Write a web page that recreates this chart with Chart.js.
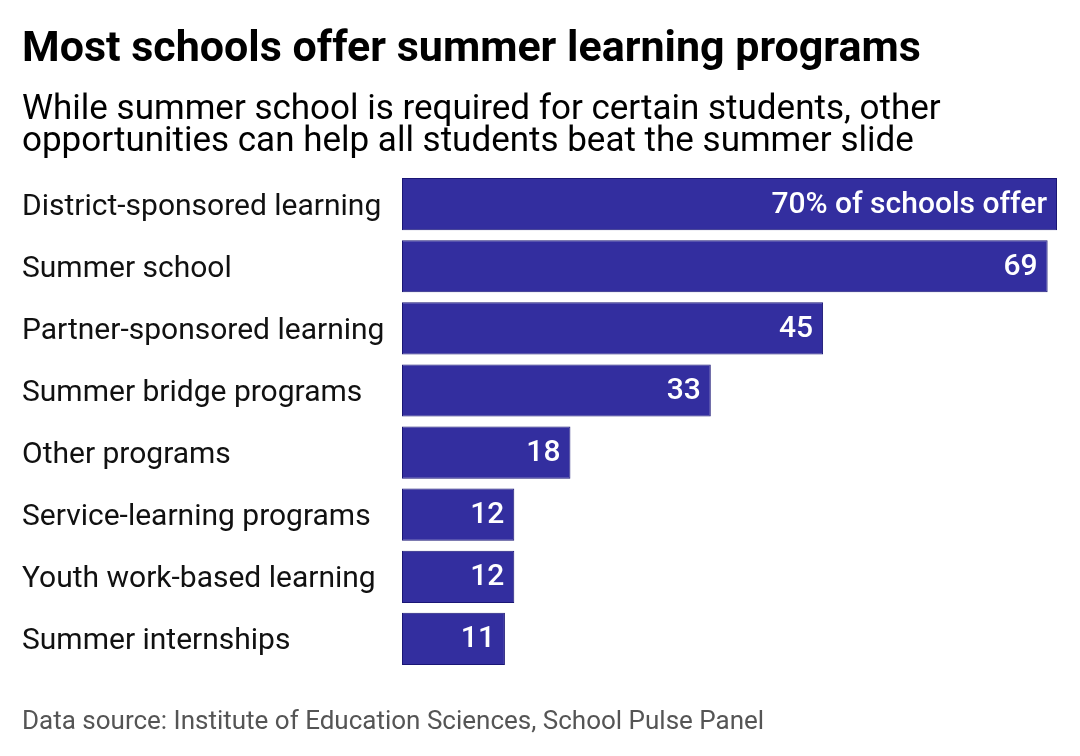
<!DOCTYPE html>
<html>
    <head>
        <meta charset="UTF-8">
        <title>Most schools offer summer learning programs</title>
        <script src="https://cdn.jsdelivr.net/npm/chart.js"></script>
        <style>
            html, body { margin: 0; padding: 0; background: #ffffff; }
            #chart_box { width: 1080px; height: 756px; position: relative; }
        </style>
    </head>

    <body>
        <div id="chart_box">
            <canvas id="programs_chart_canvas"></canvas>
        </div>

    <script>

//                                                              DATA
//---------------------------------------------------------------------------------------------------------------------------------------------------------
    const program_names = [
        'District-sponsored learning',
        'Summer school',
        'Partner-sponsored learning',
        'Summer bridge programs',
        'Other programs',
        'Service-learning programs',
        'Youth work-based learning',
        'Summer internships'
    ];
    const share_of_schools = [70, 69, 45, 33, 18, 12, 12, 11];
    const value_labels = ['70% of schools offer', '69', '45', '33', '18', '12', '12', '11'];

    const chart_title = 'Most schools offer summer learning programs';
    const chart_subtitle = [
        'While summer school is required for certain students, other',
        'opportunities can help all students beat the summer slide'
    ];
    const source_note = 'Data source: Institute of Education Sciences, School Pulse Panel';

//                                                              PLUGINS
//---------------------------------------------------------------------------------------------------------------------------------------------------------
    // white value text inside the right end of each bar
    const barValueLabels = {
        id: 'barValueLabels',
        afterDatasetsDraw(chart) {
            const ctx = chart.ctx;
            const meta = chart.getDatasetMeta(0);
            ctx.save();
            ctx.font = '500 30px Roboto';
            ctx.fillStyle = '#ffffff';
            ctx.textAlign = 'right';
            ctx.textBaseline = 'middle';
            meta.data.forEach((bar, i) => {
                ctx.fillText(value_labels[i], bar.x - 10, bar.y + 1);
            });
            ctx.restore();
        }
    };

    // source line under the chart
    const sourceNote = {
        id: 'sourceNote',
        afterDraw(chart) {
            const ctx = chart.ctx;
            ctx.save();
            ctx.font = '26px Roboto';
            ctx.fillStyle = '#555555';
            ctx.textAlign = 'left';
            ctx.textBaseline = 'alphabetic';
            ctx.fillText(source_note, 22, chart.height - 27);
            ctx.restore();
        }
    };

//                                                              GRAPH PROGRAMS
//---------------------------------------------------------------------------------------------------------------------------------------------------------
    function programsChart() {
        let programs_chart_location = document.getElementById('programs_chart_canvas');
        let programs_chart = new Chart(programs_chart_location, {
            type: 'bar',
            data: {
                labels: program_names,
                datasets: [{
                    data: share_of_schools,
                    backgroundColor: '#332e9f',
                    borderColor: '#1a1675',
                    borderWidth: 1,
                    borderSkipped: false,
                    categoryPercentage: 1,
                    barPercentage: 0.84,
                }]
            },
            options: {
                indexAxis: 'y',
                responsive: true,
                maintainAspectRatio: false,
                animation: false,
                layout: {
                    padding: { left: 22, right: 23, top: 0, bottom: 86 }
                },
                plugins: {
                    legend: { display: false },
                    tooltip: { enabled: false },
                    title: {
                        display: true,
                        text: chart_title,
                        align: 'start',
                        color: '#000000',
                        font: { family: 'Roboto', size: 43, weight: 'bold', lineHeight: 1.2 },
                        padding: { top: 24, bottom: 19 }
                    },
                    subtitle: {
                        display: true,
                        text: chart_subtitle,
                        align: 'start',
                        color: '#000000',
                        font: { family: 'Roboto', size: 35, weight: 'normal', lineHeight: 0.914 },
                        padding: { top: 0, bottom: 14.5 }
                    }
                },
                scales: {
                    x: {
                        display: false,
                        min: 0,
                        max: 70,
                    },
                    y: {
                        grid: { display: false },
                        border: { display: false },
                        ticks: {
                            crossAlign: 'far',
                            color: '#111111',
                            labelOffset: 3,
                            font: { family: 'Roboto', size: 30 },
                        },
                        afterFit(scale) {
                            scale.width = 380;
                        }
                    }
                }
            },
            plugins: [barValueLabels, sourceNote]
        });
    }

    programsChart();

//                                                              END OF SCRIPT
//---------------------------------------------------------------------------------------------------------------------------------------------------------
    </script>
    </body>
</html>
